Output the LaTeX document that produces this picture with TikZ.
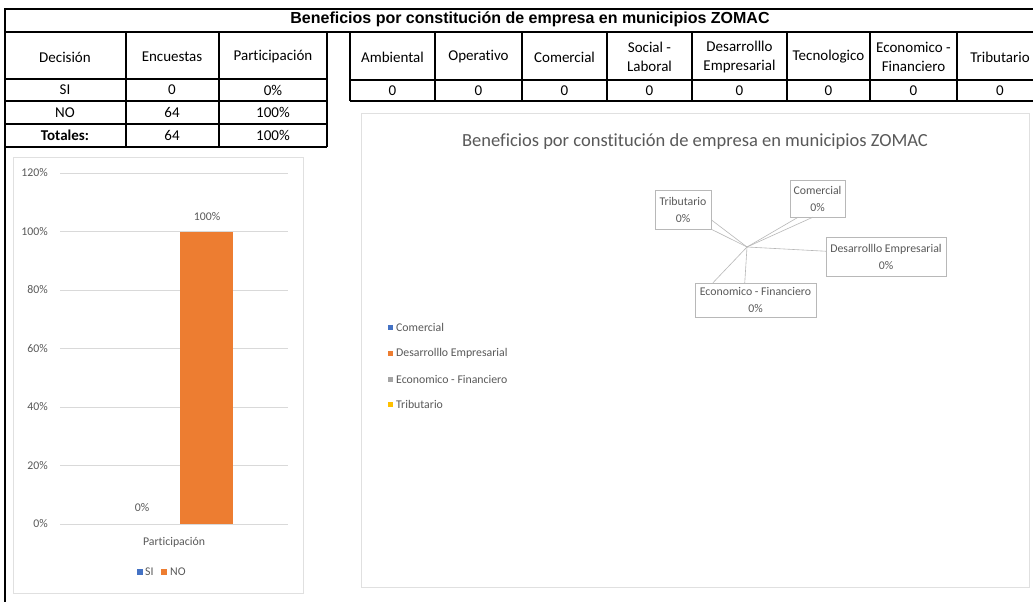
\documentclass[tikz,border=0pt]{standalone}
\usepackage{fontspec}
\setmainfont[Ligatures=NoCommon]{Carlito}
\newfontfamily\headfont{Liberation Sans}
\definecolor{xlblue}{HTML}{4472C4}
\definecolor{xlorange}{HTML}{ED7D31}
\definecolor{xlgray}{HTML}{A5A5A5}
\definecolor{xlgold}{HTML}{FFC000}
\begin{document}
\begin{tikzpicture}[
        x=1pt, y=-1pt,
        rule/.style={line width=1.3pt, black},
        cell/.style={font=\fontsize{15}{19}\selectfont, align=center, inner sep=0pt},
        chartframe/.style={draw=black!12, line width=0.9pt},
        gridline/.style={draw=black!15, line width=0.9pt},
        ticklabel/.style={font=\fontsize{11.8}{14}\selectfont, text=black!65, anchor=east, inner sep=0pt},
        chartlabel/.style={font=\fontsize{11.8}{14}\selectfont, text=black!65, inner sep=0pt},
        pielabel/.style={draw=black!28, fill=white, font=\fontsize{11.8}{17}\selectfont, text=black!65, align=center, inner sep=0pt},
        leader/.style={draw=black!28, line width=0.6pt},
        legendbox/.style={minimum size=6pt, inner sep=0pt}
      ]
      \useasboundingbox (0,0) rectangle (1033,602);
      \fill[white] (0,0) rectangle (1033,602);

      % Title row
      \draw[rule] (5,602) -- (5,9) -- (1033,9);
      \draw[rule] (5,32) -- (1033,32);
      \node[font=\headfont\bfseries\fontsize{16}{19}\selectfont, inner sep=0pt] (title) at (530,19.5) {Beneficios por constitución de empresa en municipios ZOMAC};

      % Left table
      \foreach \y in {79,101,124,147}
        \draw[rule] (5,\y) -- (327,\y);
      \foreach \x in {126,219,327}
        \draw[rule] (\x,32) -- (\x,147);
      \node[cell] (hdec) at (65,57) {Decisión};
      \node[cell] (henc) at (172,57) {Encuestas};
      \node[cell] (hpar) at (273,57) {Participación};
      \node[cell] (si) at (65,90) {SI};
      \node[cell] (sienc) at (172,90) {0};
      \node[cell] (sipar) at (273,90) {0\%};
      \node[cell] (no) at (65,112.5) {NO};
      \node[cell] (noenc) at (172,112.5) {64};
      \node[cell] (nopar) at (273,112.5) {100\%};
      \node[cell, font=\bfseries\fontsize{15}{19}\selectfont] (tot) at (65,135.5) {Totales:};
      \node[cell] (totenc) at (172,135.5) {64};
      \node[cell] (totpar) at (273,135.5) {100\%};

      % Right table
      \foreach \y in {80,101}
        \draw[rule] (350,\y) -- (1033,\y);
      \foreach \x in {350,435,522,607,692,787,870,957}
        \draw[rule] (\x,32) -- (\x,101);
      \foreach \x/\name/\txt in {392.5/amb/Ambiental, 478.5/ope/Operativo, 564.5/com/Comercial,
          649.5/soc/{Social -\\Laboral}, 739.5/des/{Desarrolllo\\Empresarial},
          828.5/tec/Tecnologico, 913.5/eco/{Economico -\\Financiero}, 1000/tri/Tributario} {
        \node[cell] (h\name) at (\x,57) {\txt};
        \node[cell] (v\name) at (\x,90.5) {0};
      }

      % Bar chart
      \draw[chartframe] (13,157) rectangle (303,593);
      \foreach \v in {0,20,...,120} {
        \draw[gridline] (60,{524-2.925*\v}) -- (288,{524-2.925*\v});
        \node[ticklabel] (tick\v) at (48,{524-2.925*\v}) {\v\%};
      }
      \fill[xlorange] (180,232) rectangle (233,524);
      \node[chartlabel] (nolabel) at (207,217) {100\%};
      \node[chartlabel] (silabel) at (142,508) {0\%};
      \node[chartlabel] (cat) at (174,542) {Participación};
      \node[legendbox, fill=xlblue] (legsi) at (140,572) {};
      \node[chartlabel, anchor=west] (legsitxt) at (145,572) {SI};
      \node[legendbox, fill=xlorange] (legno) at (164,572) {};
      \node[chartlabel, anchor=west] (legnotxt) at (170,572) {NO};

      % Pie chart
      \draw[chartframe] (361,113) rectangle (1029,587);
      \node[font=\fontsize{18.5}{22}\selectfont, text=black!65, inner sep=0pt] (charttitle) at (695,142) {Beneficios por constitución de empresa en municipios ZOMAC};
      \coordinate (ctr) at (747,247);
      \node[pielabel, minimum width=56pt, minimum height=39pt] (ptri) at (683,209.5) {Tributario\\0\%};
      \node[pielabel, minimum width=55pt, minimum height=37pt] (pcom) at (817.5,198.5) {Comercial\\0\%};
      \node[pielabel, minimum width=120pt, minimum height=39pt] (pdes) at (886,256.5) {Desarrolllo Empresarial\\0\%};
      \node[pielabel, minimum width=121pt, minimum height=34pt] (peco) at (755.5,300) {Economico - Financiero\\0\%};
      \draw[leader] (ctr) -- (ptri.-20);
      \draw[leader] (ctr) -- (ptri.south east);
      \draw[leader] (ctr) -- (pcom.-136);
      \draw[leader] (ctr) -- (pcom.-104);
      \draw[leader] (ctr) -- (pdes.175);
      \draw[leader] (ctr) -- (peco.158);
      \draw[leader] (ctr) -- (peco.122);

      % Legend
      \foreach \y/\col/\name/\txt in {327/xlblue/lcom/Comercial, 353/xlorange/ldes/Desarrolllo Empresarial,
          379/xlgray/leco/Economico - Financiero, 404/xlgold/ltri/Tributario} {
        \node[legendbox, minimum size=5pt, fill=\col] (\name) at (390,\y) {};
        \node[chartlabel, anchor=west] (\name txt) at (396,\y) {\txt};
      }
    \end{tikzpicture}
\end{document}
